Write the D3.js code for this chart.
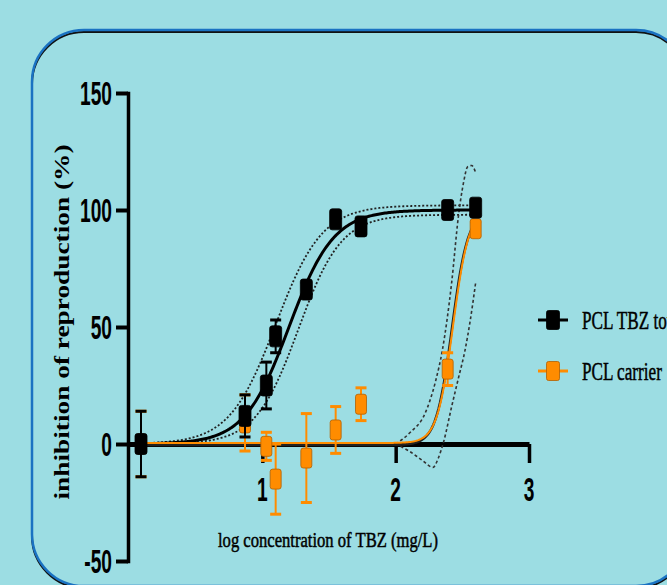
<!DOCTYPE html>
<html>
<head>
<meta charset="utf-8">
<script src="https://cdn.jsdelivr.net/npm/d3@7"></script>
<style>
  html, body { margin: 0; padding: 0; background: #9cdde3; overflow: hidden; }
</style>
</head>
<body>
<div id="chart"></div>
<script>
// data
const logConc = [0.09, 0.87, 1.03, 1.10, 1.33, 1.55, 1.74, 2.39, 2.60];
const tbzMean = [0, 12, 25, 46, 66, 96, 93, 100, 101];
const tbzErr = [14, 9, 10, 7, 3, 3, 3, 2, 3];
const carrierMean = [0, 9, -1, -15, -6, 6, 17, 32, 92];
const carrierErr = [14, 12, 6, 15, 19, 10, 7, 7, 3];

// fitted curves (bottom, top, logEC50, hill)
const tbzFit = [0, 100, 1.2, 2.6];
const tbzUpper = [0, 102, 1.1, 2.5];
const tbzLower = [0, 98, 1.27, 2.7];
const carrierFit = [0, 100, 2.43, 7.3];

// carrier confidence bands, read as points
const carrierUpperBand = [[2.0, 0], [2.11, 5], [2.22, 13], [2.30, 27], [2.35, 40], [2.42, 69],
    [2.47, 97], [2.51, 112], [2.54, 118.5], [2.57, 119], [2.60, 116]];
const carrierLowerBand = [[2.0, 0], [2.1, -3], [2.2, -7], [2.28, -10], [2.32, -6], [2.36, 1],
    [2.42, 16], [2.47, 28], [2.52, 40], [2.56, 53], [2.60, 69]];

const yTicks = [-50, 0, 50, 100, 150];
const xTicks = [1, 2, 3];
const seriesNames = ['PCL TBZ total', 'PCL carrier'];

const W = 667, H = 585;
const ORANGE = '#ff8c00';
const SERIF = '"Liberation Serif", "Times New Roman", serif';
const SANS = '"Liberation Sans", Arial, sans-serif';

const svg = d3.select('#chart').append('svg')
    .attr('width', W)
    .attr('height', H);

svg.append('rect').attr('width', W).attr('height', H).attr('fill', '#9cdde3');

// rounded frame with a small dark shadow
svg.append('rect')
    .attr('x', 32).attr('y', 32).attr('width', 656).attr('height', 556).attr('rx', 52)
    .attr('fill', 'none').attr('stroke', '#111').attr('stroke-width', 2);
svg.append('rect')
    .attr('x', 32).attr('y', 30).attr('width', 656).attr('height', 556).attr('rx', 52)
    .attr('fill', 'none').attr('stroke', '#1a72c2').attr('stroke-width', 2.5);

const x = d3.scaleLinear().domain([0, 3]).range([129, 529]);
const y = d3.scaleLinear().domain([-50, 150]).range([561, 93]);

function squeezed(g, tx, ty, str, sx, size, family, weight, anchor) {
    return g.append('text')
        .attr('transform', `translate(${tx},${ty}) scale(${sx},1)`)
        .attr('text-anchor', anchor)
        .attr('dy', '0.36em')
        .style('font-family', family)
        .style('font-weight', weight)
        .style('font-size', size + 'px')
        .attr('fill', '#000')
        .text(str);
}

// axes
const yAxis = svg.append('g')
    .attr('transform', 'translate(128,0)')
    .call(d3.axisLeft(y).tickValues(yTicks).tickSize(12).tickSizeOuter(0).tickFormat(''));
yAxis.select('.domain').attr('stroke', '#000').attr('stroke-width', 3.5).attr('stroke-linecap', 'square');
yAxis.selectAll('.tick line').attr('stroke', '#000').attr('stroke-width', 4);

const xAxis = svg.append('g')
    .attr('transform', `translate(0,${y(0)})`)
    .call(d3.axisBottom(x).tickValues(xTicks).tickSize(19).tickSizeOuter(0).tickFormat(''));
xAxis.select('.domain').attr('stroke', '#000').attr('stroke-width', 5);
xAxis.selectAll('.tick line').attr('stroke', '#000').attr('stroke-width', 3.5);

const labels = svg.append('g');
yTicks.forEach(v => squeezed(labels, 112, y(v), String(v), 0.58, 33, SANS, 'bold', 'end'));
xTicks.forEach(v => squeezed(labels, x(v), 489, String(v), 0.58, 33, SANS, 'bold', 'middle'));

// axis titles
svg.append('text')
    .attr('transform', 'translate(62,322) rotate(-90)')
    .attr('text-anchor', 'middle')
    .attr('dy', '0.35em')
    .attr('textLength', 355)
    .attr('lengthAdjust', 'spacingAndGlyphs')
    .style('font-family', SERIF)
    .style('font-weight', 'bold')
    .style('font-size', '20px')
    .text('inhibition of reproduction (%)');

svg.append('text')
    .attr('x', 328).attr('y', 547)
    .attr('text-anchor', 'middle')
    .attr('textLength', 220)
    .attr('lengthAdjust', 'spacingAndGlyphs')
    .attr('stroke', '#000')
    .attr('stroke-width', 0.5)
    .style('font-family', SERIF)
    .style('font-size', '22px')
    .text('log concentration of TBZ (mg/L)');

// curves
const logistic = p => v => p[0] + (p[1] - p[0]) / (1 + Math.pow(10, (p[2] - v) * p[3]));
const line = d3.line().x(d => x(d[0])).y(d => y(d[1]));
const smooth = d3.line().x(d => x(d[0])).y(d => y(d[1])).curve(d3.curveMonotoneX);
const sample = (p, x0, x1) => d3.range(x0, x1 + 0.0001, 0.01).map(v => [v, logistic(p)(v)]);

const plot = svg.append('g');

[tbzUpper, tbzLower].forEach(p => {
    plot.append('path')
        .attr('d', line(sample(p, 0.15, 2.6)))
        .attr('fill', 'none')
        .attr('stroke', '#222')
        .attr('stroke-width', 1.8)
        .attr('stroke-dasharray', '2,2');
});

[carrierUpperBand, carrierLowerBand].forEach(b => {
    plot.append('path')
        .attr('d', smooth(b))
        .attr('fill', 'none')
        .attr('stroke', '#333')
        .attr('stroke-width', 1.6)
        .attr('stroke-dasharray', '3,2.5');
});

plot.append('path')
    .attr('d', line(sample(tbzFit, 0.1, 2.6)))
    .attr('fill', 'none')
    .attr('stroke', '#000')
    .attr('stroke-width', 3);

plot.append('path')
    .attr('d', line(sample(carrierFit, 0.1, 2.6)))
    .attr('transform', 'translate(-1,1)')
    .attr('fill', 'none')
    .attr('stroke', '#222')
    .attr('stroke-width', 2.5);
plot.append('path')
    .attr('d', line(sample(carrierFit, 0.1, 2.6)))
    .attr('transform', 'translate(0,-1)')
    .attr('fill', 'none')
    .attr('stroke', ORANGE)
    .attr('stroke-width', 2);

// points with error bars
function drawSeries(means, errs, color, edge, w, h) {
    const g = plot.append('g');
    const pts = logConc.map((c, i) => ({ c, m: means[i], e: errs[i] }));
    const bars = g.selectAll('g.bar').data(pts).enter().append('g');
    bars.append('line')
        .attr('x1', d => x(d.c)).attr('x2', d => x(d.c))
        .attr('y1', d => y(d.m + d.e)).attr('y2', d => y(d.m - d.e))
        .attr('stroke', color).attr('stroke-width', 2);
    [1, -1].forEach(s => {
        bars.append('line')
            .attr('x1', d => x(d.c) - 5.5).attr('x2', d => x(d.c) + 5.5)
            .attr('y1', d => y(d.m + s * d.e)).attr('y2', d => y(d.m + s * d.e))
            .attr('stroke', color).attr('stroke-width', 3);
    });
    g.selectAll('rect').data(pts).enter().append('rect')
        .attr('x', d => x(d.c) - w / 2)
        .attr('y', d => y(d.m) - h / 2)
        .attr('width', w).attr('height', h).attr('rx', 2.5)
        .attr('fill', color)
        .attr('stroke', edge).attr('stroke-width', 0.8);
}

drawSeries(carrierMean, carrierErr, ORANGE, '#b35f00', 11, 20);
drawSeries(tbzMean, tbzErr, '#000', '#000', 12, 21);

// legend (first label runs off the right edge, as in the original)
const legend = svg.append('g');
[[320, '#000', '#000'], [371, ORANGE, '#b35f00']].forEach(([ly, col, edge], i) => {
    legend.append('line')
        .attr('x1', 538).attr('x2', 568).attr('y1', ly).attr('y2', ly)
        .attr('stroke', col).attr('stroke-width', 3);
    legend.append('rect')
        .attr('x', 553 - 6.5).attr('y', ly - 9.5).attr('width', 13).attr('height', 19).attr('rx', 2)
        .attr('fill', col).attr('stroke', edge).attr('stroke-width', 0.8);
    squeezed(legend, 582, ly, seriesNames[i], 0.66, 26, SERIF, 'normal', 'start')
        .attr('stroke', '#000').attr('stroke-width', 0.5);
});
</script>
</body>
</html>
